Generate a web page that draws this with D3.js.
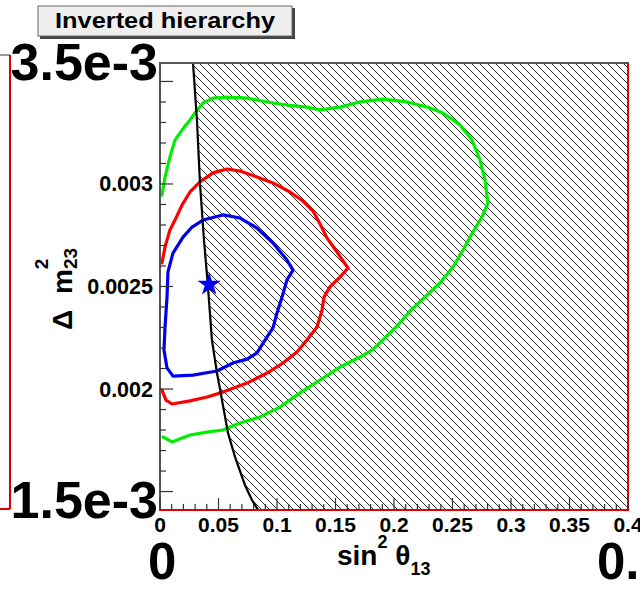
<!DOCTYPE html>
<html>
<head>
<meta charset="utf-8">
<script src="https://cdn.jsdelivr.net/npm/d3@7"></script>
<style>
  html, body { margin: 0; padding: 0; background: #fff; }
  svg { display: block; }
  text { font-family: "Liberation Sans", Arial, Helvetica, sans-serif; font-weight: bold; fill: #000; }
</style>
</head>
<body>
<svg id="chart" width="640" height="590"></svg>
<script>
// ---- data: sin^2(theta13) vs delta m^2_23, inverted hierarchy ----
const xDomain = [0, 0.4];
const yDomain = [0.00141, 0.00359];

const xMajorTicks = [0, 0.05, 0.1, 0.15, 0.2, 0.25, 0.3, 0.35, 0.4];
const xTickLabels = ["0", "0.05", "0.1", "0.15", "0.2", "0.25", "0.3", "0.35", "0.4"];
const yMajorTicks = [0.0015, 0.002, 0.0025, 0.003, 0.0035];
const yLabelTicks = [0.002, 0.0025, 0.003];
const yTickLabels = ["0.002", "0.0025", "0.003"];

const titleText = "Inverted hierarchy";
const edgeLabelsY = ["3.5e-3", "1.5e-3"];
const edgeLabelsX = ["0", "0.4"];

// excluded region boundary (area to the right is excluded)
const limitCurve = [
  [0.0282, 0.00359], [0.0316, 0.00331], [0.0342, 0.00300], [0.0376, 0.002727],
  [0.0410, 0.002498], [0.0444, 0.002239], [0.0487, 0.002078], [0.0513, 0.00200],
  [0.0530, 0.001946], [0.0581, 0.001786], [0.0641, 0.001669], [0.0726, 0.001532],
  [0.0786, 0.001459], [0.0838, 0.00141]
];

// allowed regions (outer / middle / inner confidence levels)
const contourOuter = [
  [0.0017, 0.002946], [0.0043, 0.003034], [0.0085, 0.003132], [0.0128, 0.003214],
  [0.0188, 0.003263], [0.0256, 0.003312], [0.0299, 0.003346], [0.0368, 0.003395],
  [0.0453, 0.003419], [0.0573, 0.003424], [0.0744, 0.003419], [0.0915, 0.003400],
  [0.1085, 0.003385], [0.1256, 0.003375], [0.1368, 0.003361], [0.1538, 0.003375],
  [0.1709, 0.003400], [0.1906, 0.003414], [0.2111, 0.003400], [0.2282, 0.003375],
  [0.2419, 0.003346], [0.2564, 0.003288], [0.2667, 0.003214], [0.2735, 0.003117],
  [0.2778, 0.003019], [0.2803, 0.002907], [0.2752, 0.002839], [0.2675, 0.002766],
  [0.2590, 0.002678], [0.2504, 0.002595], [0.2393, 0.002517], [0.2265, 0.002449],
  [0.2137, 0.002380], [0.2034, 0.002312], [0.1923, 0.002249], [0.1812, 0.002190],
  [0.1709, 0.002156], [0.1538, 0.002107], [0.1368, 0.002044], [0.1197, 0.001981],
  [0.1026, 0.001912], [0.0855, 0.001864], [0.0684, 0.001834], [0.0538, 0.001800],
  [0.0402, 0.001790], [0.0256, 0.001776], [0.0103, 0.001742], [0.0026, 0.001766]
];

const contourMiddle = [
  [0.0017, 0.002615], [0.0043, 0.002693], [0.0085, 0.002776], [0.0128, 0.002824],
  [0.0188, 0.002897], [0.0256, 0.002961], [0.0342, 0.003010], [0.0453, 0.003054],
  [0.0573, 0.003073], [0.0684, 0.003063], [0.0829, 0.003034], [0.0966, 0.003005],
  [0.1111, 0.002961], [0.1222, 0.002917], [0.1308, 0.002868], [0.1368, 0.002805],
  [0.1427, 0.002737], [0.1513, 0.002668], [0.1607, 0.002590], [0.1538, 0.002546],
  [0.1453, 0.002498], [0.1402, 0.002449], [0.1385, 0.002385], [0.1342, 0.002302],
  [0.1256, 0.002239], [0.1171, 0.002181], [0.1051, 0.002127], [0.0915, 0.002078],
  [0.0744, 0.002029], [0.0538, 0.001985], [0.0402, 0.001961], [0.0256, 0.001942],
  [0.0103, 0.001927], [0.0051, 0.001946], [0.0017, 0.001995]
];

const contourInner = [
  [0.0368, 0.002824], [0.0538, 0.002849], [0.0684, 0.002834], [0.0829, 0.002785],
  [0.0966, 0.002712], [0.1085, 0.002629], [0.1137, 0.002580], [0.1085, 0.002532],
  [0.1043, 0.002449], [0.1000, 0.002371], [0.0966, 0.002298], [0.0915, 0.002254],
  [0.0829, 0.002176], [0.0744, 0.002146], [0.0624, 0.002127], [0.0487, 0.002088],
  [0.0282, 0.002068], [0.0111, 0.002063], [0.0060, 0.002103], [0.0034, 0.002190],
  [0.0043, 0.002302], [0.0060, 0.002449], [0.0068, 0.002571], [0.0111, 0.002663],
  [0.0197, 0.002741], [0.0274, 0.002790], [0.0368, 0.002824]
];

const bestFit = [0.042, 0.00251];

// ---- layout ----
const plot = { left: 160, right: 628, top: 63, bottom: 510 };
const svg = d3.select("#chart");

const x = d3.scaleLinear().domain(xDomain).range([plot.left, plot.right]);
const y = d3.scaleLinear().domain(yDomain).range([plot.bottom, plot.top]);

const defs = svg.append("defs");
defs.append("clipPath").attr("id", "plotClip")
  .append("rect")
  .attr("x", plot.left).attr("y", plot.top)
  .attr("width", plot.right - plot.left).attr("height", plot.bottom - plot.top);

const hatch = defs.append("pattern")
  .attr("id", "hatch")
  .attr("patternUnits", "userSpaceOnUse")
  .attr("width", 8).attr("height", 8);
hatch.append("path")
  .attr("d", "M0,0 L8,8 M-2,6 L2,10 M6,-2 L10,2")
  .attr("stroke", "#2a2a2a")
  .attr("stroke-width", 1)
  .attr("fill", "none");

// ---- outer red frame segments ----
const red = "#e00000";
svg.append("line").attr("x1", 0).attr("x2", 10).attr("y1", 55).attr("y2", 55)
  .attr("stroke", "#777").attr("stroke-width", 1.5);
svg.append("line").attr("x1", 10).attr("x2", 10).attr("y1", 55).attr("y2", 509)
  .attr("stroke", red).attr("stroke-width", 2);
svg.append("line").attr("x1", 0).attr("x2", 10).attr("y1", 509).attr("y2", 509)
  .attr("stroke", red).attr("stroke-width", 2);

// ---- plot body ----
const body = svg.append("g").attr("clip-path", "url(#plotClip)");

// excluded (hatched) region: right of the limit curve
const excluded = limitCurve.slice()
  .concat([[xDomain[1], yDomain[0]], [xDomain[1], yDomain[1]]]);
body.append("path")
  .datum(excluded)
  .attr("d", d3.line().x(d => x(d[0])).y(d => y(d[1])))
  .attr("fill", "url(#hatch)")
  .attr("stroke", "none");

const contourLine = d3.line().x(d => x(d[0])).y(d => y(d[1]));

const contours = [
  { data: contourOuter, color: "#00ee00" },
  { data: contourMiddle, color: "#ff0000" },
  { data: contourInner, color: "#0000ee" }
];
body.selectAll("path.contour")
  .data(contours)
  .join("path")
  .attr("class", "contour")
  .attr("d", d => contourLine(d.data))
  .attr("fill", "none")
  .attr("stroke", d => d.color)
  .attr("stroke-width", 3.2)
  .attr("stroke-linejoin", "round")
  .attr("stroke-linecap", "round");

body.append("path")
  .datum(limitCurve)
  .attr("d", contourLine)
  .attr("fill", "none")
  .attr("stroke", "#000")
  .attr("stroke-width", 2.2);

body.append("path")
  .attr("d", d3.symbol().type(d3.symbolStar).size(170)())
  .attr("transform", `translate(${x(bestFit[0])},${y(bestFit[1])})`)
  .attr("fill", "#0000ee");

// ---- frame ----
svg.append("rect")
  .attr("x", plot.left).attr("y", plot.top)
  .attr("width", plot.right - plot.left).attr("height", plot.bottom - plot.top)
  .attr("fill", "none").attr("stroke", "#555").attr("stroke-width", 2);
svg.append("line").attr("x1", plot.left).attr("x2", plot.right + 1)
  .attr("y1", plot.bottom).attr("y2", plot.bottom)
  .attr("stroke", red).attr("stroke-width", 2);
svg.append("line").attr("x1", plot.right).attr("x2", plot.right)
  .attr("y1", plot.top).attr("y2", plot.bottom)
  .attr("stroke", red).attr("stroke-width", 2);

// ---- ticks ----
const tickColor = "#333";
const xMinor = d3.range(0, 41).map(i => i / 100);
svg.append("g").selectAll("line")
  .data(xMinor)
  .join("line")
  .attr("x1", d => x(d)).attr("x2", d => x(d))
  .attr("y1", plot.bottom)
  .attr("y2", d => plot.bottom - (xMajorTicks.some(m => Math.abs(m - d) < 1e-9) ? 12 : 6))
  .attr("stroke", tickColor).attr("stroke-width", 1.2);

const yMinor = d3.range(15, 36).map(i => i / 10000);
svg.append("g").selectAll("line")
  .data(yMinor)
  .join("line")
  .attr("y1", d => y(d)).attr("y2", d => y(d))
  .attr("x1", plot.left)
  .attr("x2", d => plot.left + (yMajorTicks.some(m => Math.abs(m - d) < 1e-12) ? 13 : 6))
  .attr("stroke", tickColor).attr("stroke-width", 1.2);

// tick labels
svg.append("g").selectAll("text")
  .data(xMajorTicks)
  .join("text")
  .attr("x", d => x(d))
  .attr("y", 532)
  .attr("text-anchor", "middle")
  .attr("font-size", 21)
  .text((d, i) => xTickLabels[i]);

svg.append("g").selectAll("text")
  .data(yLabelTicks)
  .join("text")
  .attr("x", 153)
  .attr("y", d => y(d) + 7.5)
  .attr("text-anchor", "end")
  .attr("font-size", 21.5)
  .text((d, i) => yTickLabels[i]);

// large edge labels
svg.append("text").attr("x", 158).attr("y", 80).attr("text-anchor", "end")
  .attr("font-size", 52).text(edgeLabelsY[0]);
svg.append("text").attr("x", 158).attr("y", 518).attr("text-anchor", "end")
  .attr("font-size", 52).text(edgeLabelsY[1]);
svg.append("text").attr("x", 148).attr("y", 579)
  .attr("font-size", 51).text(edgeLabelsX[0]);
svg.append("text").attr("x", 597).attr("y", 579)
  .attr("font-size", 51).text(edgeLabelsX[1]);

// axis titles
const xt = svg.append("text").attr("x", 337).attr("y", 565).attr("font-size", 28);
xt.append("tspan").text("sin");
xt.append("tspan").attr("font-size", 18).attr("dy", -17).text("2");
xt.append("tspan").attr("dy", 17).text(" \u03b8");
xt.append("tspan").attr("font-size", 18).attr("dy", 10).text("13");

const yt = svg.append("text")
  .attr("transform", "translate(72,330) rotate(-90)")
  .attr("font-size", 28);
yt.append("tspan").text("\u0394");
yt.append("tspan").attr("dx", 8).text(" m");
yt.append("tspan").attr("font-size", 19).attr("dy", -24).text("2");
yt.append("tspan").attr("font-size", 19).attr("dx", -10.5).attr("dy", 29).text("23");

// title box
svg.append("rect").attr("x", 40).attr("y", 8).attr("width", 255).attr("height", 31)
  .attr("fill", "#444");
svg.append("rect").attr("x", 38).attr("y", 6).attr("width", 254).attr("height", 30)
  .attr("fill", "#efefef").attr("stroke", "#666").attr("stroke-width", 1);
svg.append("text").attr("x", 165).attr("y", 28).attr("text-anchor", "middle")
  .attr("font-size", 22).attr("textLength", 220).attr("lengthAdjust", "spacingAndGlyphs")
  .text(titleText);
</script>
</body>
</html>
